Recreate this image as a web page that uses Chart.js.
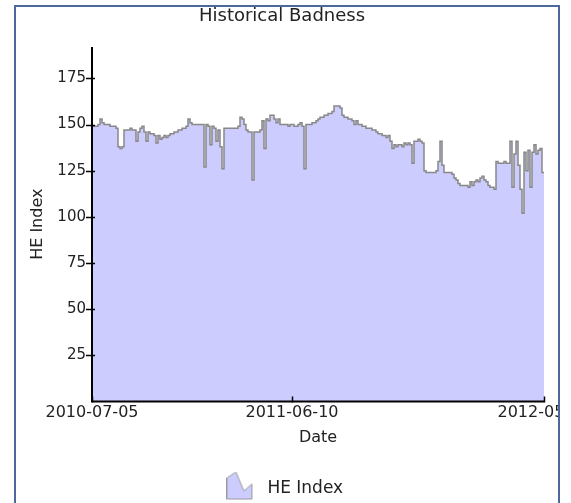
<!DOCTYPE html>
<html>
<head>
<meta charset="utf-8">
<script src="https://cdn.jsdelivr.net/npm/chart.js@4.4.1/dist/chart.umd.min.js"></script>
<style>
  html, body { margin: 0; background: #fff; overflow: hidden; }
  #frame { position: absolute; left: 14px; top: 5px; width: 546px; height: 520px; border: 2px solid #4b6a9b; box-sizing: border-box; overflow: hidden; }
  #chart { position: absolute; left: -16px; top: -7px; }
</style>
</head>
<body>
<div id="frame"><canvas id="chart" width="571" height="507"></canvas></div>
<script>
// HE index, one reading per sample
const heIndex = [
  149,149,149,149,150,153,151,150,150,150,
  149,149,149,148,138,137,138,147,147,147,
  148,147,147,141,146,148,149,146,141,146,
  145,145,144,140,144,142,143,144,143,144,
  145,145,146,146,147,147,148,148,149,153,
  151,150,150,150,150,150,150,127,150,149,
  139,149,148,141,147,138,126,148,148,148,
  148,148,148,148,149,154,153,150,147,146,
  146,120,146,146,146,147,152,137,153,152,
  155,155,153,151,153,150,150,150,150,149,
  150,150,149,149,150,151,149,126,150,150,
  150,151,151,152,153,154,154,155,155,156,
  156,157,160,160,160,159,155,154,154,153,
  153,152,150,152,150,150,149,149,148,148,
  148,147,147,146,145,145,144,144,143,144,
  141,137,139,138,139,139,138,140,139,140,
  139,129,141,141,142,141,140,125,124,124,
  124,124,124,125,130,141,128,124,124,124,
  124,123,121,120,118,117,117,117,117,116,
  119,117,119,120,119,121,122,120,119,117,
  116,116,115,130,129,129,129,130,129,129,
  141,116,134,141,128,115,102,135,125,136,
  116,135,139,134,136,137,124
]
// dates shown on the x axis and the sample they sit at
const tickDates = ['2010-07-05', '2011-06-10', '2012-05-14']
const tickIdx = [0, 100, heIndex.length - 1]
const yTicks = [25, 50, 75, 100, 125, 150, 175]

const labels = heIndex.map((v, i) => String(i))

// little area-chart icon for the legend (blank strip at the bottom lifts it a bit)
const icon = document.createElement('canvas')
icon.width = 27
icon.height = 34
{
    const c = icon.getContext('2d')
    c.beginPath()
    c.moveTo(0.5, 27.5)
    c.lineTo(0.5, 6.5)
    c.lineTo(9.5, 0.5)
    c.lineTo(17.5, 19.5)
    c.lineTo(25.5, 12.5)
    c.lineTo(25.5, 27.5)
    c.closePath()
    c.fillStyle = '#ccccff'
    c.fill()
    c.strokeStyle = '#999'
    c.lineWidth = 1
    c.stroke()
}

// axis lines on top of the fill, and tick marks that cross them
const crossTicks = {
    id: 'crossTicks',
    afterDraw(chart) {
        const {ctx, chartArea, scales} = chart
        ctx.save()
        ctx.strokeStyle = '#000'
        ctx.lineWidth = 2
        ctx.beginPath()
        ctx.moveTo(chartArea.left, chartArea.top)
        ctx.lineTo(chartArea.left, chartArea.bottom)
        ctx.lineTo(chartArea.right, chartArea.bottom)
        ctx.stroke()
        ctx.lineWidth = 1.5
        ctx.beginPath()
        for (const v of yTicks) {
            const y = Math.round(scales.y.getPixelForValue(v)) + 0.5
            ctx.moveTo(chartArea.left - 6, y)
            ctx.lineTo(chartArea.left + 3, y)
        }
        for (const i of tickIdx) {
            const x = Math.round(scales.x.getPixelForValue(i)) + 0.5
            ctx.moveTo(x, chartArea.bottom - 5)
            ctx.lineTo(x, chartArea.bottom + 1)
        }
        ctx.stroke()
        ctx.restore()
    }
}

Chart.defaults.font.family = '"DejaVu Sans", Verdana, sans-serif'
Chart.defaults.color = '#222'

new Chart(document.getElementById('chart'), {
    type: 'line',
    data: {
        labels: labels,
        datasets: [{
            label: 'HE Index',
            data: heIndex,
            stepped: 'after',
            fill: 'origin',
            backgroundColor: '#ccccff',
            borderColor: '#888',
            borderWidth: 1.5,
            pointRadius: 0,
            pointStyle: icon
        }]
    },
    options: {
        responsive: false,
        animation: false,
        layout: {padding: {left: 20, right: 27, top: 0, bottom: 0}},
        plugins: {
            title: {
                display: true,
                text: 'Historical Badness',
                font: {size: 18, weight: 'normal'},
                padding: {top: 6, bottom: 19.4}
            },
            legend: {
                position: 'bottom',
                labels: {usePointStyle: true, pointStyleWidth: 38, padding: 10, font: {size: 17}}
            },
            tooltip: {enabled: false}
        },
        scales: {
            x: {
                grid: {display: true, drawOnChartArea: false, drawTicks: false, color: 'transparent'},
                border: {display: false},
                ticks: {
                    autoSkip: false, maxRotation: 0, minRotation: 0, padding: 2,
                    font: {size: 16},
                    callback: (v, i) => {
                        const k = tickIdx.indexOf(i)
                        return k >= 0 ? tickDates[k] : ''
                    }
                },
                title: {display: true, text: 'Date', font: {size: 16}, padding: {top: 0, bottom: 23}},
                afterFit(s) {
                    s.height = 68.6
                    s.paddingLeft = 0
                    s.paddingRight = 0
                }
            },
            y: {
                min: 0,
                max: 192,
                grid: {display: true, drawOnChartArea: false, drawTicks: true, tickLength: 6, color: 'transparent'},
                border: {display: false},
                ticks: {
                    stepSize: 25, padding: 0, font: {size: 15},
                    callback: v => yTicks.includes(v) ? v : ''
                },
                title: {display: true, text: 'HE Index', font: {size: 16}, padding: {top: 8.4, bottom: 0}},
                afterFit(s) {
                    s.width = 72
                }
            }
        }
    },
    plugins: [crossTicks]
})
</script>
</body>
</html>
